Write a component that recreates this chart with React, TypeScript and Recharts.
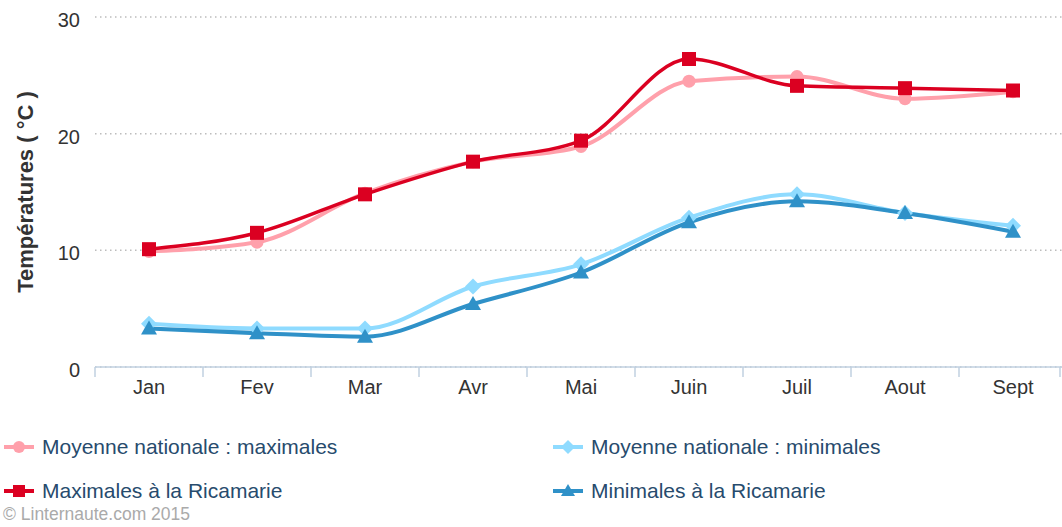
import { CartesianGrid, Line, LineChart, XAxis, YAxis } from 'recharts';

const months = ['Jan', 'Fev', 'Mar', 'Avr', 'Mai', 'Juin', 'Juil', 'Aout', 'Sept'];
const natMax = [9.9, 10.7, 14.9, 17.6, 18.9, 24.5, 24.9, 23.0, 23.6];
const natMin = [3.7, 3.3, 3.3, 6.9, 8.8, 12.8, 14.8, 13.2, 12.1];
const ricMax = [10.1, 11.5, 14.8, 17.6, 19.4, 26.4, 24.1, 23.9, 23.7];
const ricMin = [3.3, 2.9, 2.6, 5.4, 8.1, 12.4, 14.2, 13.2, 11.6];
const yTicks = [0, 10, 20, 30];

const data = months.map((m, i) => ({
  month: m,
  natMax: natMax[i],
  natMin: natMin[i],
  ricMax: ricMax[i],
  ricMin: ricMin[i],
}));

const FONT = '"Liberation Sans", Arial, Helvetica, sans-serif';
const PINK = '#ffa0ab';
const RED = '#db0021';
const LIGHT = '#8fdbff';
const BLUE = '#2f91c8';

type DotProps = { cx?: number; cy?: number };

const CircleDot = ({ cx = 0, cy = 0 }: DotProps) => (
  <circle cx={cx} cy={cy} r={6.5} fill={PINK} />
);
const SquareDot = ({ cx = 0, cy = 0 }: DotProps) => (
  <rect x={cx - 7} y={cy - 7} width={14} height={14} fill={RED} />
);
const DiamondDot = ({ cx = 0, cy = 0 }: DotProps) => (
  <path d={`M${cx} ${cy - 8}L${cx + 8} ${cy}L${cx} ${cy + 8}L${cx - 8} ${cy}Z`} fill={LIGHT} />
);
const TriangleDot = ({ cx = 0, cy = 0 }: DotProps) => (
  <path d={`M${cx} ${cy - 8}L${cx + 8} ${cy + 6}L${cx - 8} ${cy + 6}Z`} fill={BLUE} />
);

const MonthTick = (props: any) => {
  const { x, y, payload, index } = props;
  const half = payload?.offset ?? 54;
  return (
    <g>
      <line x1={x - half} y1={y} x2={x - half} y2={y + 10} stroke="#c0d0e0" strokeWidth={1.5} />
      {index === months.length - 1 && (
        <line x1={1060} y1={y} x2={1060} y2={y + 10} stroke="#c0d0e0" strokeWidth={1.5} />
      )}
      <text x={x} y={y + 27} textAnchor="middle" fill="#333" fontSize={20} fontFamily={FONT}>
        {payload.value}
      </text>
    </g>
  );
};

const YTitle = (props: any) => {
  const vb = props.viewBox || { x: 0, y: 17, height: 350 };
  const cx = vb.x + 33;
  const cy = vb.y + vb.height / 2;
  return (
    <text
      x={cx}
      y={cy}
      transform={`rotate(-90 ${cx} ${cy})`}
      textAnchor="middle"
      fill="#333"
      fontSize={22}
      fontWeight="bold"
      fontFamily={FONT}
    >
      Températures ( °C )
    </text>
  );
};

const legendItems = [
  { label: 'Moyenne nationale : maximales', color: PINK, mark: 'circle' },
  { label: 'Moyenne nationale : minimales', color: LIGHT, mark: 'diamond' },
  { label: 'Maximales à la Ricamarie', color: RED, mark: 'square' },
  { label: 'Minimales à la Ricamarie', color: BLUE, mark: 'triangle' },
];

function LegendMark({ color, mark }: { color: string; mark: string }) {
  return (
    <svg width={32} height={20} style={{ display: 'block' }}>
      <line x1={0} y1={10} x2={30} y2={10} stroke={color} strokeWidth={4} />
      {mark === 'circle' && <circle cx={15} cy={10} r={6} fill={color} />}
      {mark === 'square' && <rect x={9} y={4} width={12} height={12} fill={color} />}
      {mark === 'diamond' && <path d="M15 3L22 10L15 17L8 10Z" fill={color} />}
      {mark === 'triangle' && <path d="M15 3L22 15L8 15Z" fill={color} />}
    </svg>
  );
}

export default function App() {
  return (
    <div style={{ position: 'absolute', left: 0, top: 0, width: 1062, height: 527, background: '#fff', overflow: 'hidden' }}>
      <LineChart
        width={1062}
        height={527}
        data={data}
        margin={{ top: 17, right: -5, bottom: 130, left: 0 }}
      >
        <CartesianGrid vertical={false} stroke="#bcbcbc" strokeDasharray="1.5 3.5" strokeWidth={1.5} />
        <XAxis
          dataKey="month"
          scale="band"
          height={30}
          tick={<MonthTick />}
          tickLine={false}
          tickSize={0}
          tickMargin={0}
          axisLine={{ stroke: '#c0d0e0', strokeWidth: 1.5 }}
          interval={0}
        />
        <YAxis
          width={95}
          domain={[0, 30]}
          ticks={yTicks}
          tickLine={false}
          axisLine={false}
          tickSize={0}
          tickMargin={15}
          tick={{ fill: '#333', fontSize: 20, fontFamily: FONT, dy: 3 }}
          label={<YTitle />}
        />
        <Line
          type="monotone"
          dataKey="natMax"
          stroke={PINK}
          strokeWidth={4}
          dot={<CircleDot />}
          activeDot={false}
          isAnimationActive={false}
        />
        <Line
          type="monotone"
          dataKey="natMin"
          stroke={LIGHT}
          strokeWidth={4}
          dot={<DiamondDot />}
          activeDot={false}
          isAnimationActive={false}
        />
        <Line
          type="monotone"
          dataKey="ricMax"
          stroke={RED}
          strokeWidth={3.5}
          dot={<SquareDot />}
          activeDot={false}
          isAnimationActive={false}
        />
        <Line
          type="monotone"
          dataKey="ricMin"
          stroke={BLUE}
          strokeWidth={4}
          dot={<TriangleDot />}
          activeDot={false}
          isAnimationActive={false}
        />
      </LineChart>
      <div
        style={{
          position: 'absolute',
          left: 4,
          top: 437,
          width: 1058,
          display: 'grid',
          gridTemplateColumns: '549px 500px',
          rowGap: 24,
          fontFamily: FONT,
        }}
      >
        {legendItems.map((it) => (
          <div key={it.label} style={{ display: 'flex', alignItems: 'center', height: 20 }}>
            <LegendMark color={it.color} mark={it.mark} />
            <span style={{ marginLeft: 6, fontSize: 21, color: '#274b6d', whiteSpace: 'nowrap' }}>
              {it.label}
            </span>
          </div>
        ))}
      </div>
      <div
        style={{
          position: 'absolute',
          left: 3,
          top: 504,
          fontFamily: FONT,
          fontSize: 17.5,
          color: '#aaa',
          whiteSpace: 'nowrap',
        }}
      >
        © Linternaute.com 2015
      </div>
    </div>
  );
}
